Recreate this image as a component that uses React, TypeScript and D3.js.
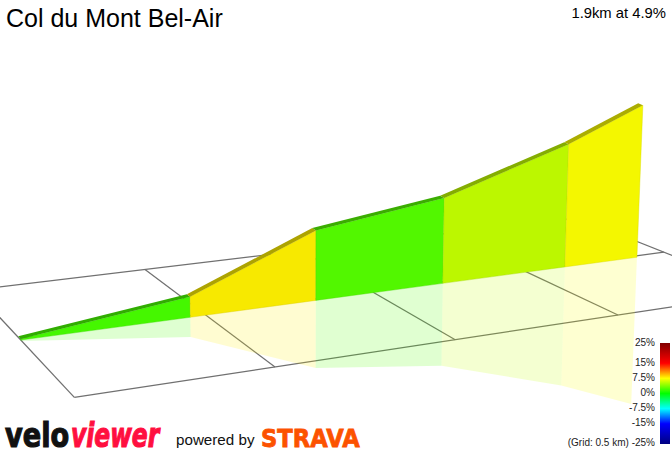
import React from "react";
import * as d3 from "d3";

const title = "Col du Mont Bel-Air";
const summary = "1.9km at 4.9%";
const distancesKm = [0, 0.456, 0.822, 1.22, 1.632, 1.89];
const elevationsM = [0, 12, 42.5, 52, 75, 93];
const gradientsPct = [2.1, 7.95, 2.5, 5.7, 7.4];
const legendValues = [25, 15, 7.5, 0, -7.5, -15, -25];
const legendLabels = ["25%", "15%", "7.5%", "0%", "-7.5%", "-15%", "(Grid: 0.5 km) -25%"];
const colorStops = [-25, -15, -7.5, 0, 7.5, 15, 25];
const colorValues = ["#000080", "#0000ff", "#00ffff", "#00ff00", "#ffff00", "#ff0000", "#800000"];
const gridColumns = [0, 1, 2, 3, 4];
const gridRows = [0, 1, 2];
const gridKm = 0.5;

// calibration of the camera: where four grid crossings land on the page
const quad: [number, number][] = [[145, 269.5], [445, 233.6], [618, 315], [275, 367]];

function makeHomography(q: [number, number][]) {
  const [[x0, y0], [x1, y1], [x2, y2], [x3, y3]] = q;
  const dx1 = x1 - x2, dx2 = x3 - x2, sx = x0 - x1 + x2 - x3;
  const dy1 = y1 - y2, dy2 = y3 - y2, sy = y0 - y1 + y2 - y3;
  const den = dx1 * dy2 - dx2 * dy1;
  const g = (sx * dy2 - dx2 * sy) / den;
  const h = (dx1 * sy - sx * dy1) / den;
  const a = x1 - x0 + g * x1, b = x3 - x0 + h * x3;
  const d = y1 - y0 + g * y1, e = y3 - y0 + h * y3;
  return (s: number, t: number): [number, number] => {
    const w = g * s + h * t + 1;
    return [(a * s + b * t + x0) / w, (d * s + e * t + y0) / w];
  };
}
const unit = makeHomography(quad);
const ground = (col: number, row: number) => unit((col - 1) / 2, row / 2);

const heightPx = d3.scaleLinear().domain([0, 93]).range([1, 152]);
const legendY = d3.scaleLinear().domain([-25, 25]).range([444, 343]);
const labelY = d3.scaleLinear().domain([-25, 25]).range([442.3, 342.7]);
const color = d3.scaleLinear<string>().domain(colorStops).range(colorValues).interpolate(d3.interpolateRgb);

const courseRow = 1.03;
const vanishX = 300;
const convergence = 1.16e-4;

// point on the course, lifted h px above the ground (negative = mirrored)
function lift(km: number, h: number, row = courseRow): [number, number] {
  const [x, y] = ground(km / gridKm, row);
  return [x + (x - vanishX) * h * convergence, y - h];
}
const poly = (pts: [number, number][]) => pts.map((p) => p.map((v) => v.toFixed(2)).join(",")).join(" ");
const shade = (c: string, k: number) => {
  const r = d3.rgb(c);
  return d3.rgb(r.r * k, r.g * k, r.b * k).formatHex();
};

export default function App() {
  const segments = gradientsPct.map((g, i) => ({
    c: color(g),
    d0: distancesKm[i],
    d1: distancesKm[i + 1],
    h0: heightPx(elevationsM[i]),
    h1: heightPx(elevationsM[i + 1]),
  }));
  const sans = "'Liberation Sans', Arial, sans-serif";
  const heavy = "'DejaVu Sans', sans-serif";
  return (
    <svg width={672} height={450} viewBox="0 0 672 450" style={{ position: "absolute", left: 0, top: 0, display: "block" }} fontFamily={sans}>
      <defs>
        <linearGradient id="legend" x1="0" y1="0" x2="0" y2="1">
          {[...colorStops].reverse().map((v) => (
            <stop key={v} offset={(25 - v) / 50} stopColor={color(v)} />
          ))}
        </linearGradient>
      </defs>
      <rect width={672} height={450} fill="#fff" />
      <g stroke="#707070" strokeWidth={1.25} fill="none">
        {gridRows.map((r) => {
          const a = ground(gridColumns[0], r), b = ground(gridColumns[gridColumns.length - 1] + (r === 2 ? 1 : 0), r);
          return <line key={"r" + r} x1={a[0]} y1={a[1]} x2={b[0]} y2={b[1]} />;
        })}
        {gridColumns.map((c) => {
          const a = ground(c, gridRows[0]), b = ground(c, gridRows[2]);
          return <line key={"c" + c} x1={a[0]} y1={a[1]} x2={b[0]} y2={b[1]} />;
        })}
      </g>
      {segments.map((s, i) => (
        <polygon key={"m" + i} fill={s.c} fillOpacity={0.18} stroke="none"
          points={poly([lift(s.d0, 0), lift(s.d1, 0), lift(s.d1, -s.h1 * 0.965), lift(s.d0, -s.h0 * 0.965)])} />
      ))}
      {segments.map((s, i) => (
        <polygon key={"w" + i} fill={shade(s.c, 0.97)} stroke={shade(s.c, 0.85)} strokeWidth={0.4}
          points={poly([lift(s.d0, 0), lift(s.d1, 0), lift(s.d1, s.h1), lift(s.d0, s.h0)])} />
      ))}
      {segments.map((s, i) => (
        <polygon key={"t" + i} fill={shade(s.c, 0.68)} stroke="none"
          points={poly([lift(s.d0, s.h0), lift(s.d1, s.h1), lift(s.d1, s.h1, courseRow - 0.05), lift(s.d0, s.h0, courseRow - 0.05)])} />
      ))}
      <text x={6} y={27} fontSize={25} fill="#000">{title}</text>
      <text x={666} y={18} fontSize={14.8} textAnchor="end" fill="#000">{summary}</text>
      <rect x={660} y={legendY(25)} width={10} height={legendY(-25) - legendY(25)} fill="url(#legend)" />
      {legendValues.map((v, i) => (
        <text key={v} x={655} y={labelY(v) + 3.5} fontSize={10} textAnchor="end" fill="#222">{legendLabels[i]}</text>
      ))}
      <text transform="translate(5,447) scale(0.8,1)" fontSize={34} fontWeight={700} fontFamily={heavy} fill="#111" stroke="#111" strokeWidth={1.2}>velo</text>
      <text transform="translate(71,447) scale(0.69,1)" fontSize={34} fontWeight={700} fontStyle="italic" fontFamily={heavy} fill="#ff0f3f" stroke="#ff0f3f" strokeWidth={1.2}>viewer</text>
      <text x={176} y={445} fontSize={15.2} fill="#111">powered by</text>
      <text transform="translate(261,447) scale(0.925,1)" fontSize={24.5} fontWeight={700} fontFamily={heavy} fill="#fc5200" stroke="#fc5200" strokeWidth={0.8}>STRAVA</text>
    </svg>
  );
}
